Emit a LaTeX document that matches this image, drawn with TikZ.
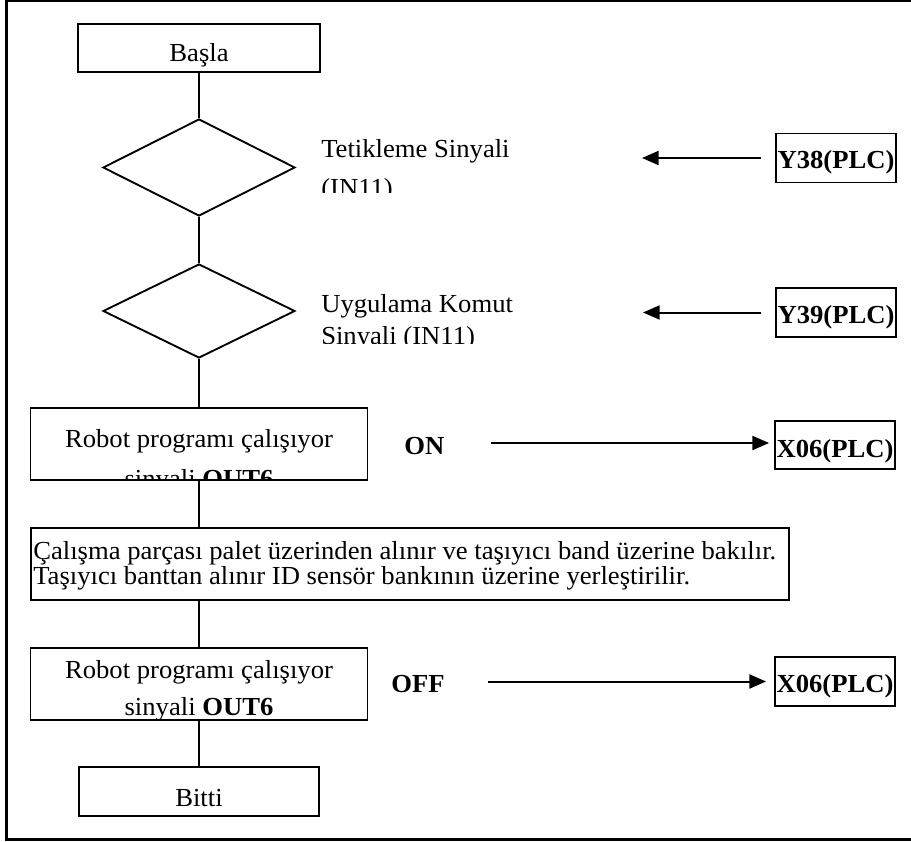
\documentclass[tikz,border=0pt]{standalone}
\usepackage{fontspec}
\setmainfont{Liberation Serif}[FakeStretch=1.025]
\usetikzlibrary{shapes.geometric,arrows.meta}
\newcommand\upx{*0.75pt}
\begin{document}
\begin{tikzpicture}[x=0.75pt,y=-0.75pt,
  every node/.style={font=\fontsize{19.5}{21}\selectfont},
  box/.style={draw, line width=1.4pt, inner sep=0pt, rectangle},
  dia/.style={draw, line width=1.4pt, diamond, inner sep=0pt},
  txt/.style={anchor=base, inner sep=0pt},
  txtl/.style={anchor=base west, inner sep=0pt},
  bl/.style={font=\fontsize{19.5}{21}\selectfont\bfseries},
  conn/.style={line width=1.4pt},
  arr/.style={line width=1.5pt, -{Triangle[length=12.5pt,width=10.5pt]}},
  frame/.style={line width=1.8pt}
]
\useasboundingbox (0,0) rectangle (911,842);

% outer frame (open on the right)
\draw[frame] (911,1) -- (6.5,1) -- (6.5,839.5) -- (911,839.5);

% flow boxes
\node[box, minimum width=242\upx, minimum height=48\upx] (start) at (199,48) {};
\node[txt] (tstart) at (199,62) {Başla};

\node[dia, minimum width=192\upx, minimum height=97\upx] (d1) at (199,167.5) {};
\node[dia, minimum width=192\upx, minimum height=94\upx] (d2) at (199,311) {};

\node[box, minimum width=337\upx, minimum height=72\upx] (r1) at (199,444) {};
\node[box, minimum width=758\upx, minimum height=72\upx] (lb) at (410,564) {};
\node[box, minimum width=337\upx, minimum height=72\upx] (r2) at (199,684) {};
\node[box, minimum width=240\upx, minimum height=49\upx] (finish) at (199,791.5) {};
\node[txt] (tfinish) at (199,806) {Bitti};

% PLC boxes
\node[box, minimum width=120\upx, minimum height=49\upx] (y38) at (836,158) {};
\node[txt, bl] (ty38) at (836,168) {Y38(PLC)};
\node[box, minimum width=120\upx, minimum height=49\upx] (y39) at (836,312.5) {};
\node[txt, bl] (ty39) at (836,323) {Y39(PLC)};
\node[box, minimum width=120\upx, minimum height=48\upx] (x06a) at (835,445) {};
\node[txt, bl] (tx06a) at (835,457) {X06(PLC)};
\node[box, minimum width=120\upx, minimum height=49\upx] (x06b) at (835,681.5) {};
\node[txt, bl] (tx06b) at (835,692) {X06(PLC)};

% connectors
\draw[conn] (start.south) -- (d1.north);
\draw[conn] (d1.south) -- (d2.north);
\draw[conn] (d2.south) -- (r1.north);
\draw[conn] (r1.south) -- (r1.south |- lb.north);
\draw[conn] (r2.north |- lb.south) -- (r2.north);
\draw[conn] (r2.south) -- (finish.north);

% diamond texts (cut off)
\begin{scope}
\clip (310,120) rectangle (600,192.5);
\node[txtl] (t1a) at (321,157) {Tetikleme Sinyali};
\node[txtl] (t1b) at (321,196) {(IN11)};
\end{scope}
\begin{scope}
\clip (310,280) rectangle (600,343.5);
\node[txtl] (t2a) at (321,312) {Uygulama Komut};
\node[txtl] (t2b) at (321,344) {Sinyali (IN11)};
\end{scope}

% robot box texts
\begin{scope}
\clip (r1.south west) rectangle (r1.north east);
\node[txt] (tr1a) at (199,447) {Robot programı çalışıyor};
\node[txt] (tr1b) at (199,487) {sinyali \textbf{OUT6}};
\end{scope}
\node[txt] (tr2a) at (199,678) {Robot programı çalışıyor};
\node[txt] (tr2b) at (199,715) {sinyali \textbf{OUT6}};

% long box text
\node[txtl] (tlb1) at (33,559) {Çalışma parçası palet üzerinden alınır ve taşıyıcı band üzerine bakılır.};
\node[txtl] (tlb2) at (33,584) {Taşıyıcı banttan alınır ID sensör bankının üzerine yerleştirilir.};

% ON / OFF labels
\node[txtl, bl] (ton) at (404,454) {ON};
\node[txtl, bl] (toff) at (391,692) {OFF};

% signal arrows
\coordinate (a1) at (642,158);
\draw[arr, shorten <=10.5pt] (y38.west) -- (a1);
\coordinate (a2) at (643,312.5);
\draw[arr, shorten <=10.5pt] (y39.west) -- (a2);
\coordinate (c3) at (491,443);
\draw[arr, shorten >=3.75pt] (c3) -- (c3 -| x06a.west);
\coordinate (c4) at (488,681.5);
\draw[arr, shorten >=6pt] (c4) -- (x06b.west);
\end{tikzpicture}
\end{document}
